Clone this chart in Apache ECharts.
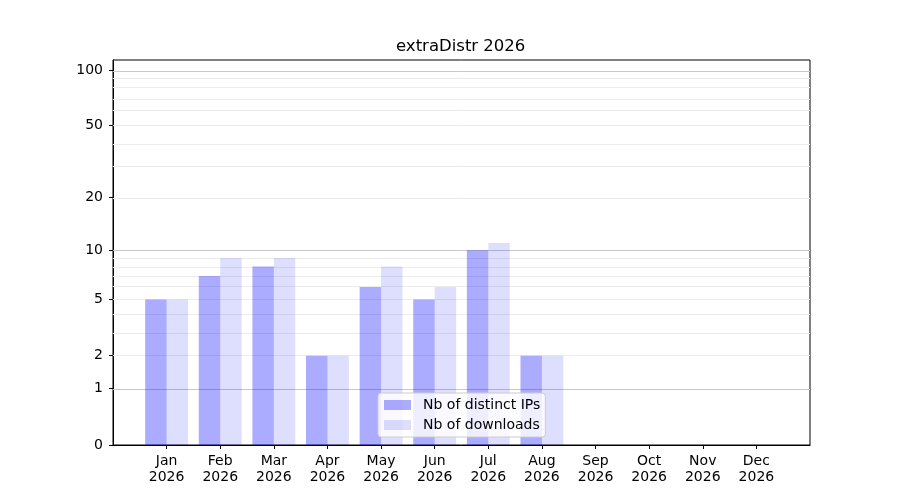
<!DOCTYPE html>
<html>
<head>
<meta charset="utf-8">
<script src="https://cdn.jsdelivr.net/npm/echarts@6/dist/echarts.min.js"></script>
<style>
  html, body { margin: 0; padding: 0; background: #fff; }
  #chart { width: 900px; height: 500px; }
</style>
</head>
<body>
<div id="chart"></div>
<script>
/* chart data */
let months = ["Jan", "Feb", "Mar", "Apr", "May", "Jun", "Jul", "Aug", "Sep", "Oct", "Nov", "Dec"];
let year = "2026";
let distinctIPs = [5, 7, 8, 2, 6, 5, 10, 2, 0, 0, 0, 0];
let downloads = [5, 9, 9, 2, 8, 6, 11, 2, 0, 0, 0, 0];

/* y axis ticks (data units) */
let yTickLabels = [0, 1, 2, 5, 10, 20, 50, 100];
let majorGrid = [1, 10, 100];
let minorGrid = [2, 3, 4, 5, 6, 7, 8, 9, 20, 30, 40, 50, 60, 70, 80, 90];
let yTop = 113.3;

/* the y scale is log10(1 + v) */
function tr(v) { return Math.log10(1 + v); }
function untr(t) { return Math.round(Math.pow(10, t) - 1); }

/* pad one empty slot on each side so the x range runs from -1 to 12 */
let xCats = [""].concat(months.map(function (m) { return m + "\n" + year; }), [" "]);
function padded(arr) {
  return [null].concat(arr.map(tr), [null]);
}

let FONT = "DejaVu Sans";

let gridLines = []
  .concat(majorGrid.map(function (v) {
    return { yAxis: tr(v), lineStyle: { color: "#c8c8c8", width: 1, type: "solid" } };
  }))
  .concat(minorGrid.map(function (v) {
    return { yAxis: tr(v), lineStyle: { color: "#ececec", width: 1, type: "solid" } };
  }));

let chart = echarts.init(document.getElementById("chart"), null, { renderer: "canvas" });

chart.setOption({
  animation: false,
  backgroundColor: "#fff",
  textStyle: { fontFamily: FONT },
  title: {
    text: "extraDistr 2026",
    left: 396,
    top: 38,
    padding: 0,
    textStyle: { fontFamily: FONT, fontSize: 16.5, fontWeight: "normal", color: "#000" },
  },
  legend: {
    orient: "vertical",
    left: 378,
    top: 393,
    padding: [5, 5, 5, 6],
    itemGap: 6,
    itemWidth: 27,
    itemHeight: 10,
    icon: "rect",
    backgroundColor: "rgba(255,255,255,0.8)",
    borderColor: "#cccccc",
    borderWidth: 1,
    borderRadius: 3,
    z: 20,
    textStyle: { fontFamily: FONT, fontSize: 14, color: "#000", padding: [0, 0, 0, 7] },
    data: ["Nb of distinct IPs", "Nb of downloads"],
  },
  grid: { left: 113, right: 90, top: 60, bottom: 55, show: true, borderColor: "#000", borderWidth: 1 },
  xAxis: {
    type: "category",
    data: xCats,
    boundaryGap: false,
    axisLine: { show: true, lineStyle: { color: "#000", width: 1 } },
    axisTick: {
      show: true,
      length: 4,
      lineStyle: { color: "#000" },
      interval: function (idx) { return idx > 0 && idx < xCats.length - 1; },
    },
    axisLabel: {
      interval: 0,
      margin: 8,
      fontFamily: FONT,
      fontSize: 14,
      lineHeight: 16,
      color: "#000",
    },
    splitLine: { show: false },
  },
  yAxis: {
    type: "value",
    min: 0,
    max: tr(yTop),
    axisLine: { show: true, lineStyle: { color: "#000", width: 1 } },
    axisTick: {
      show: true,
      length: 4,
      lineStyle: { color: "#000" },
      customValues: yTickLabels.map(tr),
    },
    axisLabel: {
      margin: 10,
      fontFamily: FONT,
      fontSize: 14,
      color: "#000",
      customValues: yTickLabels.map(tr),
      formatter: function (t) { return String(untr(t)); },
    },
    splitLine: { show: false },
  },
  series: [
    {
      name: "Nb of distinct IPs",
      type: "bar",
      data: padded(distinctIPs),
      barWidth: "40%",
      barGap: "0%",
      itemStyle: { color: "rgba(0,0,255,0.33)" },
      markLine: {
        silent: true,
        symbol: "none",
        label: { show: false },
        animation: false,
        z: 1,
        data: gridLines,
      },
    },
    {
      name: "Nb of downloads",
      type: "bar",
      data: padded(downloads),
      barWidth: "40%",
      barGap: "0%",
      itemStyle: { color: "rgba(0,0,255,0.13)" },
    },
  ],
});
</script>
</body>
</html>
